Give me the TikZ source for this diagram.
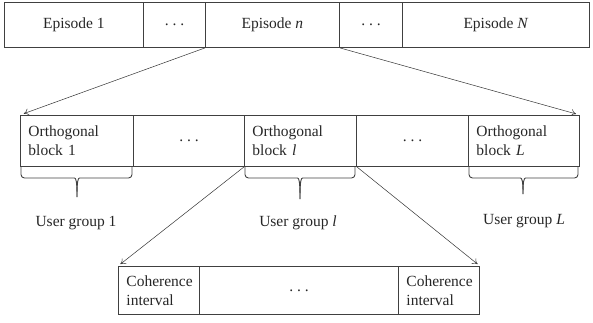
\documentclass[tikz,border=0pt]{standalone}
\usepackage{fontspec}
\setmainfont{Liberation Serif}
\usetikzlibrary{arrows.meta,calc}
\newcommand\mydots{.\ .\ .}
\newcommand\vv[1]{\textit{#1}}
\begin{document}
\begin{tikzpicture}[x=1pt,y=-1pt,
  every node/.style={font=\fontsize{15.5}{19}\selectfont, text=black!85},
  cell/.style={draw=black!75, line width=0.9pt, inner sep=0pt, anchor=north west},
  txtcell/.style={cell, align=left, inner xsep=8pt, inner ysep=0pt},
  arr/.style={draw=black!80, line width=0.5pt, -{To[length=5pt,width=7pt]}},
  bracestyle/.style={draw=black!75, line width=0.9pt, rounded corners=3.5pt},
  lbl/.style={anchor=base, inner sep=0pt}]
\useasboundingbox (0,0) rectangle (593,322);
% top row
\node[cell, minimum width=139pt, minimum height=45pt] (e1) at (4,2) {Episode 1};
\node[cell, minimum width=62pt, minimum height=45pt] (d1) at (143,2) {\mydots};
\node[cell, minimum width=134pt, minimum height=45pt] (en) at (205,2) {Episode \vv{n}};
\node[cell, minimum width=63pt, minimum height=45pt] (d2) at (339,2) {\mydots};
\node[cell, minimum width=187pt, minimum height=45pt] (eN) at (402,2) {Episode \vv{N}};
% middle row
\node[txtcell, text width=97pt, minimum height=51pt] (ob1) at (20,115) {Orthogonal\\block 1};
\node[cell, minimum width=111pt, minimum height=51pt] (d3) at (133,115) {\mydots};
\node[txtcell, text width=96pt, minimum height=51pt] (obl) at (244,115) {Orthogonal\\block \vv{l}};
\node[cell, minimum width=112pt, minimum height=51pt] (d4) at (356,115) {\mydots};
\node[txtcell, text width=95pt, minimum height=51pt] (obL) at (468,115) {Orthogonal\\block \vv{L}};
% bottom row
\node[txtcell, text width=65pt, minimum height=48pt] (c1) at (118,266) {Coherence\\interval};
\node[cell, minimum width=199pt, minimum height=48pt] (d5) at (199,266) {\mydots};
\node[txtcell, text width=65pt, minimum height=48pt] (c2) at (398,266) {Coherence\\interval};
% arrows
\draw[arr, shorten >=4pt] (en.south west) -- (ob1.north west);
\draw[arr, shorten >=4pt] (en.south east) -- (obL.north east);
\draw[arr, shorten >=3pt] (obl.south west) -- (c1.north west);
\draw[arr, shorten >=3pt] (obl.south east) -- (c2.north east);
% braces
\draw[bracestyle] (21,166) -- (21,178) -- (71,178) .. controls (76,178) and (77,181) .. (77,197);
\draw[bracestyle] (132,166) -- (132,178) -- (83,178) .. controls (78,178) and (77,181) .. (77,197);
\draw[bracestyle] (245,166) -- (245,178) -- (294,178) .. controls (299,178) and (300,181) .. (300,199);
\draw[bracestyle] (355,166) -- (355,178) -- (306,178) .. controls (301,178) and (300,181) .. (300,199);
\draw[bracestyle] (469,166) -- (469,178) -- (517,178) .. controls (522,178) and (523,181) .. (523,194);
\draw[bracestyle] (578,166) -- (578,178) -- (529,178) .. controls (524,178) and (523,181) .. (523,194);
% labels
\node[lbl] (ug1) at (76,226) {User group 1};
\node[lbl] (ugl) at (298,226) {User group \vv{l}};
\node[lbl] (ugL) at (524,224) {User group \vv{L}};
\end{tikzpicture}
\end{document}
